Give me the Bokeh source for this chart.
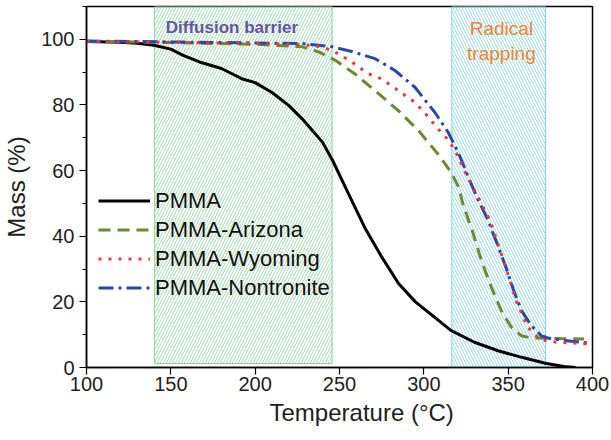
from bokeh.plotting import figure
from bokeh.models import Legend, LegendItem, Title, SingleIntervalTicker
from bokeh.core.properties import value
from bokeh.embed import file_html
from bokeh.resources import INLINE

# ---- data ----
temp_pmma = [100, 120, 130, 140, 150, 157, 167, 180, 192, 200, 210, 220, 228, 240, 246,
             255, 265, 275, 285, 295, 305, 316, 330, 344, 358, 372, 383, 390]
mass_pmma = [99.3, 99.1, 98.8, 98.2, 97.0, 95.2, 93.1, 91.1, 88.0, 86.8, 83.8, 79.8, 75.7, 68.6, 63.0,
             53.3, 42.6, 33.7, 25.6, 20.0, 15.9, 11.3, 7.7, 5.1, 3.1, 1.3, 0.3, 0.0]

temp_arizona = [100, 150, 200, 228, 238, 247.5, 259, 271, 285, 297, 308.6, 316.4, 320.4, 323.3,
                329.2, 334.1, 340, 345.9, 351.8, 357.7, 363.6, 380, 395]
mass_arizona = [99.4, 99.0, 98.5, 97.7, 96.1, 93.6, 89.5, 84.4, 78.2, 72.1, 64.9, 59.3, 55.2, 49.6,
                40.9, 32.7, 24.5, 17.4, 12.3, 9.7, 9.0, 8.8, 8.7]

temp_wyoming = [100, 150, 200, 228, 239.6, 247.5, 257.3, 267.2, 275.1, 284.9, 294.7, 301.7, 308.6,
                312.5, 318.4, 326, 334, 339.1, 348, 355, 361.6, 369.1, 378.5, 398.2]
mass_wyoming = [99.4, 99.1, 98.7, 98.4, 97.7, 96.1, 93.1, 89.5, 87.9, 84.4, 80.8, 76.9, 72.6,
                70.6, 66.3, 58.0, 50.1, 45.0, 31.5, 20.0, 12.3, 8.4, 7.7, 7.2]

temp_nontronite = [100, 150, 200, 228, 246, 257.3, 271.1, 282.9, 294.7, 306.6, 314.5, 320.4, 326,
                   332.1, 338, 343, 347.9, 352.9, 357.8, 363.7, 369.6, 373.5, 383.4, 399.2]
mass_nontronite = [99.5, 99.2, 98.9, 98.7, 97.7, 96.3, 94.1, 90.5, 85.4, 77.7, 71.6, 65.5, 58.5,
                   51.1, 45.0, 38.3, 31.7, 24.0, 17.4, 12.8, 9.7, 9.0, 8.2, 7.4]

series_names = ["PMMA", "PMMA-Arizona", "PMMA-Wyoming", "PMMA-Nontronite"]

region_left = [140.4, 316.6]
region_right = [245.6, 372.2]
region_bottom = [1.2, 0.2]
region_top = [110, 110]
diffusion_text = ["Diffusion barrier"]
radical_text = ["Radical", "trapping"]

x_title = "Temperature (°C)"
y_title = "Mass (%)"

FONT = "Liberation Sans"

p = figure(width=611, height=440, x_range=(100, 400), y_range=(0, 110),
           output_backend="svg", toolbar_location=None,
           min_border_left=84, min_border_right=19, min_border_top=6, min_border_bottom=73)
p.xgrid.visible = False
p.ygrid.visible = False
p.background_fill_color = "white"
p.border_fill_color = "white"
p.outline_line_color = "black"
p.outline_line_width = 1.5
p.outline_line_alpha = 1.0

p.xaxis.ticker = SingleIntervalTicker(interval=50, num_minor_ticks=0)
p.yaxis.ticker = SingleIntervalTicker(interval=20, num_minor_ticks=2)
for ax in (p.xaxis, p.yaxis):
    ax.axis_line_color = "black"
    ax.axis_line_width = 1.5
    ax.major_tick_line_color = "black"
    ax.major_tick_line_width = 1.2
    ax.major_tick_out = 7
    ax.major_tick_in = 0
    ax.minor_tick_line_color = "black"
    ax.minor_tick_line_width = 1.2
    ax.minor_tick_out = 4
    ax.minor_tick_in = 0
    ax.major_label_text_font = FONT
    ax.major_label_text_font_size = "20px"
    ax.major_label_text_color = "#1e1e1e"
p.xaxis.minor_tick_line_color = None
p.xaxis.major_label_standoff = 2
p.yaxis.major_label_standoff = 5

p.yaxis.axis_label = y_title
p.yaxis.axis_label_text_font = FONT
p.yaxis.axis_label_text_font_size = "24px"
p.yaxis.axis_label_text_font_style = "normal"
p.yaxis.axis_label_text_color = "#1e1e1e"
p.yaxis.axis_label_standoff = 8

p.add_layout(Title(text=x_title, align="left", offset=183, text_font=FONT, text_font_size="24px",
                   text_font_style="normal", text_color="#1e1e1e", standoff=6), "below")

# shaded regions
p.quad(left=[region_left[0]], right=[region_right[0]], bottom=[region_bottom[0]], top=[region_top[0]],
       fill_color=None, line_color="#86d39a", line_width=1,
       hatch_pattern="/", hatch_color="#9cdcae", hatch_scale=6, hatch_weight=0.9)
p.quad(left=[region_left[1]], right=[region_right[1]], bottom=[region_bottom[1]], top=[region_top[1]],
       fill_color=None, line_color="#7fd3dd", line_width=1,
       hatch_pattern="\\", hatch_color="#93d9e3", hatch_scale=6, hatch_weight=0.9)

r_pmma = p.line(temp_pmma, mass_pmma, line_color="black", line_width=3)
r_ari = p.line(temp_arizona, mass_arizona, line_color="#6b8a34", line_width=3, line_dash="12 7")
r_non = p.line(temp_nontronite, mass_nontronite, line_color="#2c48a6", line_width=3, line_dash="15 5 3 5")
r_wyo = p.line(temp_wyoming, mass_wyoming, line_color="#e8383d", line_width=3, line_dash="3 7")

p.text(x=[186.2], y=[103.6], text=diffusion_text, text_font=value(FONT), text_font_style="bold",
       text_font_size="17px", text_color="#6a52a5", text_align="center", text_baseline="alphabetic")
p.text(x=[346, 346], y=[103.3, 95.8], text=radical_text, text_font=value(FONT),
       text_font_size="19px", text_color="#ef8433", text_align="center", text_baseline="alphabetic")

legend = Legend(items=[LegendItem(label=series_names[0], renderers=[r_pmma]),
                       LegendItem(label=series_names[1], renderers=[r_ari]),
                       LegendItem(label=series_names[2], renderers=[r_wyo]),
                       LegendItem(label=series_names[3], renderers=[r_non])],
                location=(12, 65), orientation="vertical",
                glyph_width=52, glyph_height=29, label_height=29, label_standoff=5,
                padding=0, spacing=0, margin=0,
                border_line_color=None, background_fill_alpha=0,
                label_text_font=FONT, label_text_font_size="22px", label_text_color="#111111")
p.add_layout(legend)

open("out.html", "w").write(file_html(p, INLINE))
